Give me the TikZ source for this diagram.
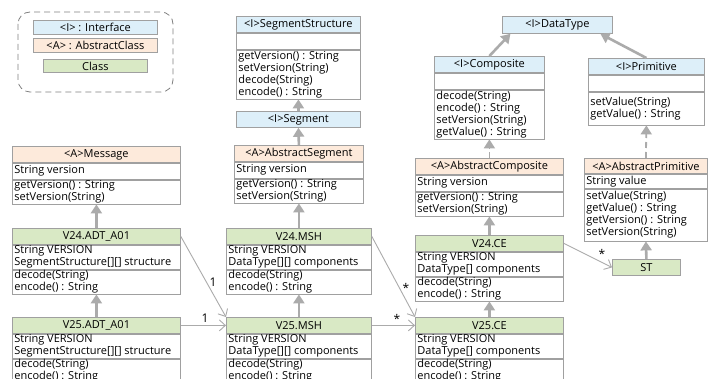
\documentclass[tikz,border=0pt]{standalone}
\usepackage{fontspec}
\setmainfont{Open Sans}
\usetikzlibrary{arrows.meta}
\definecolor{ifc}{HTML}{DDEFF9}
\definecolor{absc}{HTML}{FDEADB}
\definecolor{clsc}{HTML}{D9E9C5}
\definecolor{bordc}{HTML}{A0A0A0}
\definecolor{arrc}{HTML}{ABABAB}
\newcommand\umlfont{\fontsize{11}{12}\selectfont}
\newcommand\cmptext[3]{\parbox[c][#1pt][c]{#2pt}{\fontsize{11}{12}\selectfont\raggedright\hyphenpenalty=10000\relax #3}}
\begin{document}
\begin{tikzpicture}[x=1pt,y=-1pt,
  bd/.style={draw=bordc, line width=0.8pt},
  hdr/.style n args={3}{bd, fill=#3, anchor=north west, inner sep=0pt, font=\umlfont, minimum width=#1pt, minimum height=#2pt},
  cmp/.style={bd, fill=white, anchor=north west, inner xsep=2pt, inner ysep=0pt, minimum width=#1pt},
  gen/.style={draw=arrc, line width=2.6pt, -{Triangle[width=11pt,length=9pt]}},
  real/.style={gen, line width=1.8pt, dash pattern=on 6pt off 4pt},
  assoc/.style={draw=arrc, line width=0.9pt, -{Straight Barb[length=6pt,width=11pt]}},
  lbl/.style={font=\fontsize{12}{12}\selectfont, inner sep=0pt}
]
\useasboundingbox (0,0) rectangle (719,379);
\clip (0,0) rectangle (719,379);
\fill[white] (0,0) rectangle (719,379);

% legend
\draw[draw=gray, line width=0.8pt, dash pattern=on 6pt off 4pt, rounded corners=12pt] (18,12) rectangle (173,92);
\node[hdr={124}{14}{ifc}] (lgi) at (33,20) {<I> : Interface};
\node[hdr={124}{14}{absc}] (lga) at (33,38) {<A> : AbstractClass};
\node[hdr={104}{13}{clsc}] (lgc) at (43,59) {Class};

% Message column
\node[hdr={168}{16}{absc}] (msg) at (12,146) {<A>Message};
\node[cmp=168] (msga) at (msg.south west) {\cmptext{16}{164}{String version}};
\node[cmp=168] (msgm) at (msga.south west) {\cmptext{24}{164}{getVersion() : String\\setVersion(String)}};

\node[hdr={168}{16}{clsc}] (adt24) at (12,228) {V24.ADT\_A01};
\node[cmp=168] (adt24a) at (adt24.south west) {\cmptext{24}{164}{String VERSION\\SegmentStructure[][] structure}};
\node[cmp=168] (adt24m) at (adt24a.south west) {\cmptext{24}{164}{decode(String)\\encode() : String}};

\node[hdr={168}{16}{clsc}] (adt25) at (12,317) {V25.ADT\_A01};
\node[cmp=168] (adt25a) at (adt25.south west) {\cmptext{24}{164}{String VERSION\\SegmentStructure[][] structure}};
\node[cmp=168] (adt25m) at (adt25a.south west) {\cmptext{24}{164}{decode(String)\\encode() : String}};

% Segment column
\node[hdr={124}{16}{ifc}] (sst) at (236,16) {<I>SegmentStructure};
\node[cmp=124] (ssta) at (sst.south west) {\cmptext{16}{120}{}};
\node[cmp=124] (sstm) at (ssta.south west) {\cmptext{49}{120}{getVersion() : String\\setVersion(String)\\decode(String)\\encode() : String}};

\node[hdr={124}{16}{ifc}] (seg) at (236,111) {<I>Segment};

\node[hdr={129}{16}{absc}] (aseg) at (234,145) {<A>AbstractSegment};
\node[cmp=129] (asega) at (aseg.south west) {\cmptext{16}{125}{String version}};
\node[cmp=129] (asegm) at (asega.south west) {\cmptext{24}{125}{getVersion() : String\\setVersion(String)}};

\node[hdr={145}{16}{clsc}] (msh24) at (226,228) {V24.MSH};
\node[cmp=145] (msh24a) at (msh24.south west) {\cmptext{24}{141}{String VERSION\\DataType[][] components}};
\node[cmp=145] (msh24m) at (msh24a.south west) {\cmptext{24}{141}{decode(String)\\encode() : String}};

\node[hdr={145}{16}{clsc}] (msh25) at (226,317) {V25.MSH};
\node[cmp=145] (msh25a) at (msh25.south west) {\cmptext{24}{141}{String VERSION\\DataType[][] components}};
\node[cmp=145] (msh25m) at (msh25a.south west) {\cmptext{24}{141}{decode(String)\\encode() : String}};

% DataType part
\node[hdr={110}{17}{ifc}] (dt) at (502,16) {<I>DataType};

\node[hdr={110}{16}{ifc}] (comp) at (434,56) {<I>Composite};
\node[cmp=110] (compa) at (comp.south west) {\cmptext{16}{106}{}};
\node[cmp=110] (compm) at (compa.south west) {\cmptext{49}{106}{decode(String)\\encode() : String\\setVersion(String)\\getValue() : String}};

\node[hdr={116}{16}{ifc}] (prim) at (588,58) {<I>Primitive};
\node[cmp=116] (prima) at (prim.south west) {\cmptext{16}{112}{}};
\node[cmp=116] (primm) at (prima.south west) {\cmptext{33}{112}{setValue(String)\\getValue() : String}};

\node[hdr={148}{16}{absc}] (acomp) at (415,158) {<A>AbstractComposite};
\node[cmp=148] (acompa) at (acomp.south west) {\cmptext{16}{144}{String version}};
\node[cmp=148] (acompm) at (acompa.south west) {\cmptext{24}{144}{getVersion() : String\\setVersion(String)}};

\node[hdr={123}{15}{absc}] (aprim) at (584,158) {<A>AbstractPrimitive};
\node[cmp=123] (aprima) at (aprim.south west) {\cmptext{14}{119}{String value}};
\node[cmp=123] (aprimm) at (aprima.south west) {\cmptext{52}{119}{setValue(String)\\getValue() : String\\getVersion() : String\\setVersion(String)}};

\node[hdr={148}{16}{clsc}] (ce24) at (415,235) {V24.CE};
\node[cmp=148] (ce24a) at (ce24.south west) {\cmptext{24}{144}{String VERSION\\DataType[] components}};
\node[cmp=148] (ce24m) at (ce24a.south west) {\cmptext{24}{144}{decode(String)\\encode() : String}};

\node[hdr={148}{16}{clsc}] (ce25) at (415,317) {V25.CE};
\node[cmp=148] (ce25a) at (ce25.south west) {\cmptext{24}{144}{String VERSION\\DataType[] components}};
\node[cmp=148] (ce25m) at (ce25a.south west) {\cmptext{24}{144}{decode(String)\\encode() : String}};

\node[hdr={68}{16}{clsc}] (st) at (612,259) {ST};

% generalizations
\draw[gen] (adt24.north) -- (msgm.south);
\draw[gen] (adt25.north) -- (adt24m.south);
\draw[gen] (seg.north) -- (sstm.south);
\draw[gen] (aseg.north) -- (seg.south);
\draw[gen] (msh24.north) -- (asegm.south);
\draw[gen] (msh25.north) -- (msh24m.south);
\draw[gen] (comp.north) -- ([xshift=-47pt]dt.south);
\draw[gen] (prim.north) -- ([xshift=43pt]dt.south);
\draw[real] (acomp.north) -- (compm.south);
\draw[real] (aprim.north) -- (primm.south);
\draw[gen] (ce24.north) -- (acompm.south);
\draw[gen] (ce25.north) -- (ce24m.south);
\draw[gen] (st.north) -- (aprimm.south);

% associations
\draw[assoc] (adt24.east) -- (msh25.north west);
\draw[assoc] (adt25.east) -- (msh25.west);
\draw[assoc] (msh24.east) -- (ce25.north west);
\draw[assoc] (msh25.east) -- (ce25.west);
\draw[assoc] (ce24.east) -- (st.west);

\node[lbl] (l1) at (213,282) {1};
\node[lbl] (l2) at (205,318) {1};
\node[lbl] (l3) at (406,288) {*};
\node[lbl] (l4) at (397,319) {*};
\node[lbl] (l5) at (602,254) {*};
\end{tikzpicture}
\end{document}
